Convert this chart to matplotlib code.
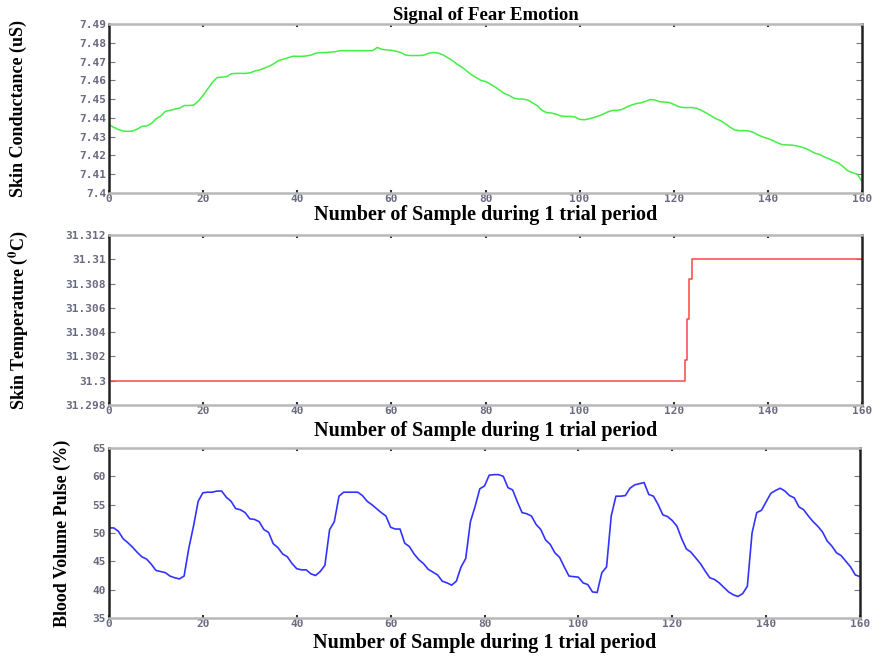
import numpy as np
import matplotlib
matplotlib.use("Agg")
import matplotlib.pyplot as plt

samples = np.arange(0, 161)

skin_conductance = [
    7.4363, 7.4350, 7.4338, 7.4330, 7.4328, 7.4330, 7.4340, 7.4355, 7.4357, 7.4370,
    7.4395, 7.4410, 7.4435, 7.4440, 7.4447, 7.4452, 7.4466, 7.4466, 7.4468, 7.4490,
    7.4520, 7.4555, 7.4590, 7.4615, 7.4617, 7.4620, 7.4635, 7.4637, 7.4637, 7.4637,
    7.4640, 7.4650, 7.4655, 7.4665, 7.4675, 7.4688, 7.4705, 7.4712, 7.4720, 7.4728,
    7.4728, 7.4728, 7.4730, 7.4735, 7.4745, 7.4748, 7.4748, 7.4750, 7.4752, 7.4758,
    7.4758, 7.4758, 7.4758, 7.4758, 7.4758, 7.4758, 7.4758, 7.4775, 7.4765, 7.4762,
    7.4760, 7.4755, 7.4748, 7.4735, 7.4732, 7.4732, 7.4732, 7.4735, 7.4745, 7.4748,
    7.4745, 7.4735, 7.4720, 7.4705, 7.4685, 7.4670, 7.4650, 7.4630, 7.4615, 7.4600,
    7.4594, 7.4580, 7.4565, 7.4548, 7.4530, 7.4520, 7.4505, 7.4500, 7.4500, 7.4495,
    7.4480, 7.4465, 7.4440, 7.4428, 7.4426, 7.4420, 7.4410, 7.4408, 7.4408, 7.4405,
    7.4392, 7.4390, 7.4395, 7.4402, 7.4410, 7.4420, 7.4432, 7.4440, 7.4440, 7.4445,
    7.4458, 7.4468, 7.4476, 7.4480, 7.4488, 7.4498, 7.4495, 7.4486, 7.4484, 7.4482,
    7.4472, 7.4460, 7.4455, 7.4455, 7.4455, 7.4450, 7.4438, 7.4425, 7.4410, 7.4395,
    7.4385, 7.4368, 7.4350, 7.4335, 7.4332, 7.4332, 7.4330, 7.4322, 7.4308, 7.4298,
    7.4290, 7.4280, 7.4268, 7.4258, 7.4256, 7.4255, 7.4252, 7.4245, 7.4238, 7.4225,
    7.4212, 7.4205, 7.4192, 7.4182, 7.4170, 7.4160, 7.4140, 7.4118, 7.4108, 7.4100,
    7.4062,
]

temp_x = [0, 122.4, 122.9, 123.3, 123.8, 160]
skin_temperature = [31.300, 31.3017, 31.3051, 31.3084, 31.310, 31.310]

blood_volume_pulse = [
    50.9, 50.9, 50.3, 49.0, 48.3, 47.5, 46.6, 45.8, 45.4, 44.5,
    43.4, 43.2, 43.0, 42.4, 42.1, 41.9, 42.4, 47.3, 51.2, 55.6,
    57.1, 57.2, 57.2, 57.4, 57.4, 56.3, 55.6, 54.3, 54.1, 53.6,
    52.5, 52.4, 52.0, 50.6, 50.1, 48.1, 47.4, 46.3, 45.8, 44.6,
    43.7, 43.5, 43.5, 42.8, 42.5, 43.2, 44.3, 50.6, 52.0, 56.5,
    57.2, 57.2, 57.2, 57.2, 56.6, 55.6, 55.0, 54.3, 53.6, 53.0,
    51.0, 50.7, 50.7, 48.2, 47.6, 46.3, 45.3, 44.6, 43.6, 43.1,
    42.6, 41.5, 41.2, 40.8, 41.5, 44.0, 45.5, 52.0, 54.7, 57.8,
    58.3, 60.2, 60.3, 60.3, 60.0, 58.0, 57.6, 55.5, 53.6, 53.4,
    53.0, 51.5, 50.6, 48.8, 48.0, 46.5, 45.7, 44.0, 42.4, 42.3,
    42.2, 41.2, 40.9, 39.6, 39.5, 43.0, 44.0, 53.0, 56.5, 56.5,
    56.6, 57.9, 58.5, 58.7, 58.9, 56.8, 56.5, 55.0, 53.2, 52.9,
    52.2, 51.2, 49.0, 47.2, 46.6, 45.6, 44.6, 43.3, 42.1, 41.8,
    41.2, 40.4, 39.6, 39.1, 38.8, 39.3, 40.6, 50.0, 53.6, 54.0,
    55.5, 57.0, 57.5, 57.9, 57.4, 56.6, 56.2, 54.6, 54.1, 53.0,
    52.0, 51.2, 50.2, 48.6, 47.7, 46.5, 46.0, 45.0, 44.0, 42.6,
    42.3,
]

x_ticks = [0, 20, 40, 60, 80, 100, 120, 140, 160]
sc_ticks = [7.40, 7.41, 7.42, 7.43, 7.44, 7.45, 7.46, 7.47, 7.48, 7.49]
sc_labels = ["7.4", "7.41", "7.42", "7.43", "7.44", "7.45", "7.46", "7.47", "7.48", "7.49"]
st_ticks = [31.298, 31.300, 31.302, 31.304, 31.306, 31.308, 31.310, 31.312]
st_labels = ["31.298", "31.3", "31.302", "31.304", "31.306", "31.308", "31.31", "31.312"]
bvp_ticks = [35, 40, 45, 50, 55, 60, 65]
bvp_labels = ["35", "40", "45", "50", "55", "60", "65"]

plt.rcParams['mathtext.fontset'] = 'stix'

W, H = 885, 656
fig = plt.figure(figsize=(W / 100, H / 100), dpi=100)

serif = ['Liberation Serif', 'DejaVu Serif']
tick_font = dict(family='DejaVu Sans Mono', weight='bold', size=8)
tick_color = '#6a6a80'


def make_axes(top_px, bottom_px, left_px=109, right_px=862):
    return fig.add_axes([left_px / W, 1 - bottom_px / H,
                         (right_px - left_px) / W, (bottom_px - top_px) / H])


def style(ax, yticks, ylabels, ylabel, ylabel_x_px, height_px, xlabel_off_px):
    ax.set_xlim(0, 160)
    ax.set_xticks(x_ticks)
    ax.set_xticklabels([str(t) for t in x_ticks], fontdict=tick_font, color=tick_color)
    ax.set_yticks(yticks)
    ax.set_yticklabels(ylabels, fontdict=tick_font, color=tick_color)
    ax.set_ylim(yticks[0], yticks[-1])
    ax.tick_params(axis='both', direction='in', length=4, width=0.8, color='#777777',
                   top=True, right=True, pad=2)
    ax.tick_params(axis='x', length=2, width=1.5, color='#333333', pad=1)
    for side in ('left', 'right'):
        ax.spines[side].set_color('#222222')
        ax.spines[side].set_linewidth(1.8)
    for side in ('top', 'bottom'):
        ax.spines[side].set_color('#b8b8b8')
        ax.spines[side].set_linewidth(1.8)
    ax.set_xlabel('Number of Sample during 1 trial period', family=serif,
                  weight='bold', fontsize=14.5)
    ax.xaxis.set_label_coords(0.5, -xlabel_off_px / height_px)
    ax.xaxis.label.set_va('center')
    ax.set_ylabel(ylabel, family=serif, weight='bold', fontsize=13)
    ax.yaxis.set_label_coords(-ylabel_x_px / 753, 0.5)
    ax.yaxis.label.set_va('center')


ax1 = make_axes(24, 193)
ax1.plot(samples, skin_conductance, color='#44ee44', lw=1.1)
style(ax1, sc_ticks, sc_labels, 'Skin Conductance (uS)', 91, 169, 22)
ax1.set_title('Signal of Fear Emotion', family=serif, weight='bold', fontsize=13.5, pad=3)

ax2 = make_axes(235, 405)
ax2.plot(temp_x, skin_temperature, color='#ff4444', lw=1.1, drawstyle='steps-post')
style(ax2, st_ticks, st_labels, 'Skin Temperature ($\\mathbf{^0}$C)', 91, 170, 26)

ax3 = make_axes(448, 618, right_px=860)
ax3.plot(samples, blood_volume_pulse, color='#3333ff', lw=1.2)
style(ax3, bvp_ticks, bvp_labels, 'Blood Volume Pulse (%)', 47, 170, 25)

fig.savefig('out.png', dpi=100)
